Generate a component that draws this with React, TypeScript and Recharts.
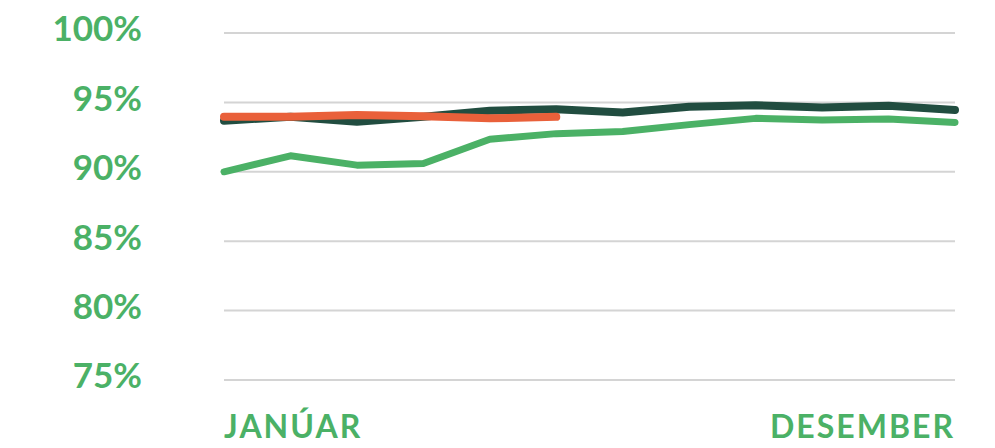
import { LineChart, Line, XAxis, YAxis, CartesianGrid } from "recharts";

const months = [
  "JANÚAR", "FEBRÚAR", "MARS", "APRÍL", "MAÍ", "JÚNÍ",
  "JÚLÍ", "ÁGÚST", "SEPTEMBER", "OKTÓBER", "NÓVEMBER", "DESEMBER",
];
const lightSeries = [90.0, 91.15, 90.48, 90.6, 92.35, 92.75, 92.9, 93.4, 93.85, 93.73, 93.8, 93.56];
const darkSeries = [93.68, 93.96, 93.6, 93.96, 94.4, 94.5, 94.28, 94.68, 94.8, 94.64, 94.76, 94.45];
const orangeSeries = [93.96, 93.96, 94.09, 94.0, 93.85, 93.96];
const yTicks = [75, 80, 85, 90, 95, 100];

const data = months.map((m, i) => ({
  month: m,
  light: lightSeries[i],
  dark: darkSeries[i],
  orange: orangeSeries[i],
}));

const GREEN = "#4bb166";
const DARK = "#214d40";
const ORANGE = "#e9603a";
const FONT = "Lato, sans-serif";

const XTick = (props: any) => {
  const { x, y, payload } = props;
  const last = payload.value === months[months.length - 1];
  return (
    <text
      x={x}
      y={y}
      dy="0.71em"
      textAnchor={last ? "end" : "start"}
      fill={GREEN}
      fontSize={32}
      fontWeight={700}
      fontFamily={FONT}
      letterSpacing={2}
    >
      {payload.value}
    </text>
  );
};

const YTick = (props: any) => {
  const { x, y, payload } = props;
  return (
    <text
      x={x}
      y={y}
      dy="0.24em"
      textAnchor="end"
      fill={GREEN}
      fontSize={35}
      fontWeight={700}
      fontFamily={FONT}
    >
      {`${payload.value}%`}
    </text>
  );
};

export default function App() {
  return (
    <div style={{ position: "absolute", left: 0, top: 0, background: "#fff" }}>
      <LineChart
        width={995}
        height={448}
        data={data}
        margin={{ top: 33, right: 40, bottom: 0, left: 0 }}
      >
        <CartesianGrid vertical={false} stroke="#d4d4d4" strokeWidth={2} />
        <XAxis
          dataKey="month"
          ticks={[months[0], months[11]]}
          interval={0}
          axisLine={false}
          tickLine={false}
          tickSize={0}
          tickMargin={35}
          height={68}
          tick={<XTick />}
        />
        <YAxis
          domain={[75, 100]}
          ticks={yTicks}
          width={224}
          axisLine={false}
          tickLine={false}
          tickSize={0}
          tickMargin={82}
          tick={<YTick />}
        />
        <Line
          dataKey="light"
          stroke={GREEN}
          strokeWidth={7}
          dot={false}
          strokeLinecap="round"
          strokeLinejoin="round"
          isAnimationActive={false}
        />
        <Line
          dataKey="dark"
          stroke={DARK}
          strokeWidth={8}
          dot={false}
          strokeLinecap="round"
          strokeLinejoin="round"
          isAnimationActive={false}
        />
        <Line
          dataKey="orange"
          stroke={ORANGE}
          strokeWidth={8}
          dot={false}
          strokeLinecap="round"
          strokeLinejoin="round"
          isAnimationActive={false}
        />
      </LineChart>
    </div>
  );
}
